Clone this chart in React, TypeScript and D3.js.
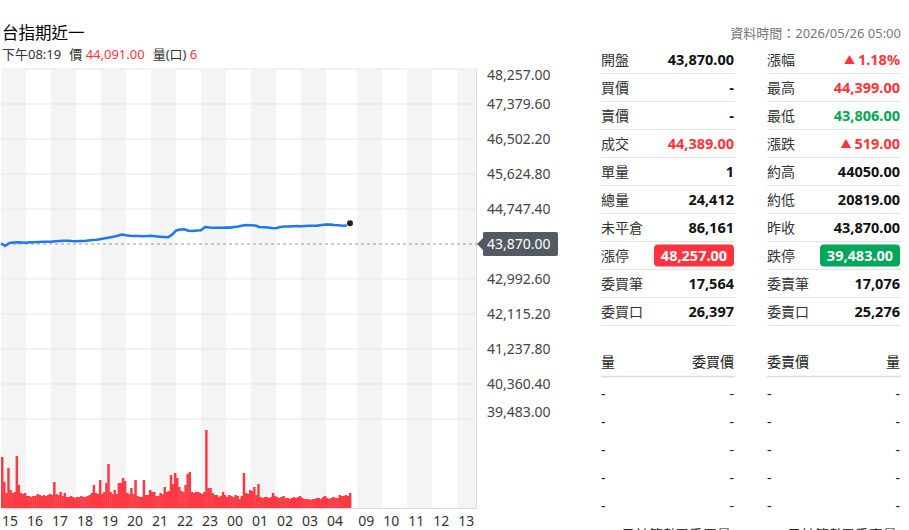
import React from 'react';
import * as d3 from 'd3';

const FONT = '"Noto Sans", "Noto Sans CJK TC", sans-serif';
const CJK = '"Noto Sans CJK TC", "Noto Sans", sans-serif';

// ---- header ----
const title = '台指期近一';
const subTime = '下午08:19';
const subPrice = '44,091.00';
const subVol = '6';
const dataTime = '資料時間：2026/05/26 05:00';

// ---- axis ----
const hourLabels = ['15', '16', '17', '18', '19', '20', '21', '22', '23', '00', '01', '02', '03', '04', '09', '10', '11', '12', '13'];
const priceTicks = [48257, 47379.6, 46502.2, 45624.8, 44747.4, 43870, 42992.6, 42115.2, 41237.8, 40360.4, 39483];
const refPrice = 43870;
const limitUp = 48257;
const limitDown = 39483;

// price every 10 minutes from 15:00 (night session)
const prices = [
  43883, 43820, 43895, 43908, 43913, 43908, 43903, 43913, 43913, 43920,
  43925, 43928, 43928, 43940, 43945, 43950, 43953, 43945, 43940, 43945,
  43945, 43958, 43970, 43975, 43995, 44013, 44033, 44050, 44075, 44108,
  44088, 44075, 44070, 44070, 44065, 44070, 44075, 44063, 44053, 44045,
  44038, 44096, 44208, 44233, 44241, 44201, 44196, 44208, 44216, 44296,
  44284, 44279, 44276, 44279, 44284, 44281, 44296, 44309, 44334, 44346,
  44341, 44334, 44296, 44291, 44284, 44271, 44266, 44296, 44309, 44309,
  44314, 44321, 44316, 44321, 44326, 44329, 44331, 44346, 44359, 44356,
  44346, 44339, 44326, 44334,
];
const lastPrice = 44389;

// volume every 5 minutes from 15:00
const volumes = [
  510, 260, 150, 400, 180, 150, 160, 520, 230, 150, 140, 150,
  120, 120, 110, 120, 120, 140, 130, 120, 130, 120, 130, 140, 130, 260, 140, 130, 160, 120, 150, 110, 110, 120, 110,
  100, 110, 110, 120, 110, 110, 120, 130, 150, 230, 150, 140, 280, 140, 160, 250, 440, 160, 140, 180, 140, 250, 250, 300,
  270, 150, 140, 200, 140, 280, 120, 110, 110, 280, 130, 130, 180, 160, 160, 120, 120, 150, 140, 210, 160, 170,
  330, 240, 350, 300, 210, 170, 160, 230, 340, 360, 160, 150, 160, 160, 150, 140, 160, 780, 200, 200, 150, 130, 130,
  110, 120, 160, 130, 110, 130, 120, 110, 130, 120, 90, 120, 350, 150, 140, 180, 170, 210, 130, 240, 110, 100, 110,
  110, 100, 110, 150, 120, 110, 100, 110, 120, 100, 100, 90, 100, 110, 100, 110, 120, 100, 90, 90, 90, 80, 90,
  90, 100, 100, 90, 110, 120, 100, 90, 100, 110, 100,
  100, 130, 120, 120, 130, 120, 150,
];

// ---- quote table ----
const leftLabels = ['開盤', '買價', '賣價', '成交', '單量', '總量', '未平倉', '漲停', '委買筆', '委買口'];
const leftValues = ['43,870.00', '-', '-', '44,389.00', '1', '24,412', '86,161', '48,257.00', '17,564', '26,397'];
const leftTones = ['flat', 'flat', 'flat', 'up', 'flat', 'flat', 'flat', 'limitUp', 'flat', 'flat'];
const rightLabels = ['漲幅', '最高', '最低', '漲跌', '約高', '約低', '昨收', '跌停', '委賣筆', '委賣口'];
const rightValues = ['1.18%', '44,399.00', '43,806.00', '519.00', '44050.00', '20819.00', '43,870.00', '39,483.00', '17,076', '25,276'];
const rightTones = ['upArrow', 'up', 'down', 'upArrow', 'flat', 'flat', 'flat', 'limitDown', 'flat', 'flat'];

const bookHeadL = ['量', '委買價'];
const bookHeadR = ['委賣價', '量'];
const bookRows = ['-', '-', '-', '-', '-'];
const footL = ['日計筆數', '累委買量'];
const footR = ['日計筆數', '累委賣量'];

const RED = '#ff333a';
const GREEN = '#00a651';

function hourStart(i: number) {
  return i < 14 ? i * 60 : 855 + (i - 14) * 60;
}

export default function App() {
  const W = 909;
  const H = 530;
  const x = d3.scaleLinear().domain([0, 1140]).range([1, 476]);
  const y = d3.scaleLinear().domain([limitDown, limitUp]).range([419, 69]);
  const yv = d3.scaleLinear().domain([0, 800]).range([508, 428]);

  const line = d3
    .line<number>()
    .x((_, i) => x(i * 10))
    .y((d) => y(d))
    .curve(d3.curveLinear);

  const barW = x(5) - x(0);

  const stripes = hourLabels.map((lab, i) => {
    const s = hourStart(i);
    const e = i === 13 ? 840 : i < hourLabels.length - 1 ? hourStart(i + 1) : 1140;
    return { lab, s, e, grey: i % 2 === 0 };
  });

  const rowY = (i: number) => 59.5 + i * 28;

  const renderValue = (val: string, tone: string, xr: number, cy: number, key: string) => {
    if (tone === 'limitUp' || tone === 'limitDown') {
      return (
        <g key={key}>
          <rect x={xr - 80} y={cy - 11} width={80} height={22} rx={4} fill={tone === 'limitUp' ? '#ff3340' : '#00a65a'} />
          <text x={xr - 40} y={cy + 5} textAnchor="middle" fill="#fff" fontWeight="bold" fontSize={14.5} fontFamily={FONT}>
            {val}
          </text>
        </g>
      );
    }
    const color = tone === 'up' || tone === 'upArrow' ? RED : tone === 'down' ? GREEN : '#111';
    return (
      <text key={key} x={xr} y={cy + 5} textAnchor="end" fill={color} fontWeight="bold" fontSize={14.5} fontFamily={FONT}>
        {tone === 'upArrow' ? <tspan fontSize={11} dy={-1}>▲ </tspan> : null}
        {tone === 'upArrow' ? <tspan dy={1}>{val}</tspan> : val}
      </text>
    );
  };

  return (
    <svg width={W} height={H} style={{ position: 'absolute', left: 0, top: 0, background: '#fff' }} xmlns="http://www.w3.org/2000/svg">
      {/* header */}
      <text x={2} y={39} fontSize={16.5} fontFamily={CJK} fill="#000">{title}</text>
      <text x={2} y={59} fontSize={13} fontFamily={FONT} fill="#333">
        <tspan>{subTime}</tspan>
        <tspan dx={8}>價 </tspan>
        <tspan fill={RED}>{subPrice}</tspan>
        <tspan dx={8}>量(口) </tspan>
        <tspan fill={RED}>{subVol}</tspan>
      </text>
      <text x={901} y={38} textAnchor="end" fontSize={13} fontFamily={FONT} fill="#777">{dataTime}</text>

      {/* stripes */}
      {stripes.map((s, i) => (
        <rect key={'st' + i} x={x(s.s)} y={69} width={x(s.e) - x(s.s)} height={439} fill={s.grey ? '#f4f4f4' : '#fff'} />
      ))}
      {/* grid */}
      {priceTicks.map((p, i) =>
        p === refPrice ? null : (
          <line key={'g' + i} x1={1} x2={476} y1={y(p)} y2={y(p)} stroke="#e6e6e6" strokeWidth={1} />
        )
      )}
      <line x1={476.5} x2={476.5} y1={69} y2={509} stroke="#dcdcdc" />
      <line x1={1} x2={477} y1={508.5} y2={508.5} stroke="#dcdcdc" />

      {/* volume */}
      {volumes.map((v, i) => (
        <rect key={'v' + i} x={x(i * 5)} y={yv(v)} width={barW + 0.4} height={yv(0) - yv(v)} fill="#ff3a42" />
      ))}

      {/* reference line */}
      <line x1={1} x2={478} y1={y(refPrice)} y2={y(refPrice)} stroke="#9a9a9a" strokeDasharray="3,3" />

      {/* price line */}
      <path d={line(prices) || ''} fill="none" stroke="#1f78f2" strokeWidth={2.6} strokeLinejoin="round" />
      <circle cx={x(prices.length * 10) - 1} cy={y(lastPrice)} r={3} fill="#222" />

      {/* y axis labels */}
      {priceTicks.map((p, i) =>
        p === refPrice ? null : (
          <text key={'yl' + i} x={487} y={Math.max(75, Math.min(412, y(p))) + 5} fontSize={14} fontFamily={FONT} fill="#444">
            {d3.format(',.2f')(p)}
          </text>
        )
      )}
      <g>
        <path
          d={`M${477},${y(refPrice)} L${483},${y(refPrice) - 6} L${483},${y(refPrice) - 11} Q${483},${y(refPrice) - 12} ${485},${y(refPrice) - 12} L${556},${y(refPrice) - 12} Q${558},${y(refPrice) - 12} ${558},${y(refPrice) - 10} L${558},${y(refPrice) + 10} Q${558},${y(refPrice) + 12} ${556},${y(refPrice) + 12} L${485},${y(refPrice) + 12} Q${483},${y(refPrice) + 12} ${483},${y(refPrice) + 11} L${483},${y(refPrice) + 6} Z`}
          fill="#535a61"
        />
        <text x={487} y={y(refPrice) + 5} fontSize={14} fontFamily={FONT} fill="#fff">{d3.format(',.2f')(refPrice)}</text>
      </g>

      {/* x labels */}
      {stripes.map((s, i) => (
        <text key={'xl' + i} x={x(s.s) + 1} y={526} fontSize={14} fontFamily={FONT} fill="#333">{s.lab}</text>
      ))}

      {/* quote table */}
      {leftLabels.map((lab, i) => (
        <g key={'l' + i}>
          <text x={601} y={rowY(i) + 5} fontSize={14} fontFamily={CJK} fill="#333">{lab}</text>
          {renderValue(leftValues[i], leftTones[i], 734, rowY(i), 'lv' + i)}
          <line x1={601} x2={735} y1={rowY(i) + 14} y2={rowY(i) + 14} stroke="#e2e2e2" />
        </g>
      ))}
      {rightLabels.map((lab, i) => (
        <g key={'r' + i}>
          <text x={767} y={rowY(i) + 5} fontSize={14} fontFamily={CJK} fill="#333">{lab}</text>
          {renderValue(rightValues[i], rightTones[i], 900, rowY(i), 'rv' + i)}
          <line x1={767} x2={901} y1={rowY(i) + 14} y2={rowY(i) + 14} stroke="#e2e2e2" />
        </g>
      ))}

      {/* order book */}
      <text x={601} y={367} fontSize={14} fontFamily={CJK} fill="#222">{bookHeadL[0]}</text>
      <text x={734} y={367} textAnchor="end" fontSize={14} fontFamily={CJK} fill="#222">{bookHeadL[1]}</text>
      <text x={767} y={367} fontSize={14} fontFamily={CJK} fill="#222">{bookHeadR[0]}</text>
      <text x={900} y={367} textAnchor="end" fontSize={14} fontFamily={CJK} fill="#222">{bookHeadR[1]}</text>
      <line x1={601} x2={735} y1={376.5} y2={376.5} stroke="#dcdce2" strokeWidth={1.5} />
      <line x1={767} x2={901} y1={376.5} y2={376.5} stroke="#dcdce2" strokeWidth={1.5} />
      {bookRows.map((r, i) => (
        <g key={'b' + i} fontSize={14} fontFamily={FONT} fill="#222">
          <text x={601} y={394 + i * 28 + 5}>{r}</text>
          <text x={734} y={394 + i * 28 + 5} textAnchor="end">{r}</text>
          <text x={767} y={394 + i * 28 + 5}>{r}</text>
          <text x={900} y={394 + i * 28 + 5} textAnchor="end">{r}</text>
        </g>
      ))}
      <text x={621} y={540} fontSize={14} fontFamily={CJK} fill="#222">{footL[0]}</text>
      <text x={731} y={540} textAnchor="end" fontSize={14} fontFamily={CJK} fill="#222">{footL[1]}</text>
      <text x={787} y={540} fontSize={14} fontFamily={CJK} fill="#222">{footR[0]}</text>
      <text x={897} y={540} textAnchor="end" fontSize={14} fontFamily={CJK} fill="#222">{footR[1]}</text>
    </svg>
  );
}
